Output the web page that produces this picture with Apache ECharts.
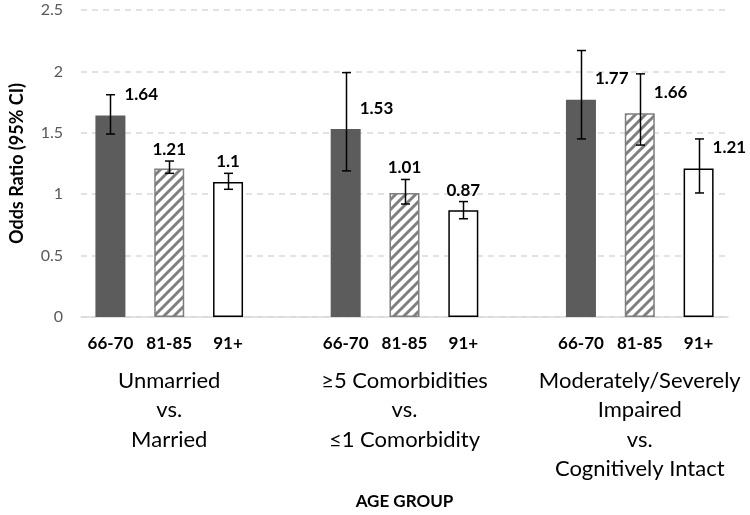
<!DOCTYPE html>
<html>
<head>
<meta charset="utf-8">
<script src="https://cdn.jsdelivr.net/npm/echarts@6/dist/echarts.min.js"></script>
<style>
  html, body { margin: 0; padding: 0; background: #fff; }
  #chart { width: 750px; height: 515px; }
</style>
</head>
<body>
<div id="chart"></div>
<script>
// age groups (bars inside each comparison)
const ageGroups = ['66-70', '81-85', '91+'];
// comparisons (group labels under the age groups)
const comparisons = [
  'Unmarried\nvs.\nMarried',
  '≥5 Comorbidities\nvs.\n≤1 Comorbidity',
  'Moderately/Severely\nImpaired\nvs.\nCognitively Intact'
];

// odds ratios, in age group order
const oddsUnmarried = [1.64, 1.21, 1.1];
const oddsComorbid = [1.53, 1.01, 0.87];
const oddsCognitive = [1.77, 1.66, 1.21];

// 95% CI bounds
const ciLowUnmarried = [1.49, 1.17, 1.04];
const ciHighUnmarried = [1.81, 1.27, 1.17];
const ciLowComorbid = [1.19, 0.92, 0.80];
const ciHighComorbid = [1.99, 1.12, 0.94];
const ciLowCognitive = [1.45, 1.40, 1.01];
const ciHighCognitive = [2.17, 1.98, 1.45];

// y axis ticks
const yMin = 0;
const yMax = 2.5;
const yStep = 0.5;

const FONT = 'Lato, "Open Sans", "DejaVu Sans", sans-serif';
const BAR_W = 30;

// diagonal hatch for the middle age group
function hatchPattern() {
  const c = document.createElement('canvas');
  c.width = 10;
  c.height = 10;
  const ctx = c.getContext('2d');
  ctx.fillStyle = '#fff';
  ctx.fillRect(0, 0, 10, 10);
  ctx.strokeStyle = '#7f7f7f';
  ctx.lineWidth = 3;
  ctx.beginPath();
  ctx.moveTo(-2, 12); ctx.lineTo(12, -2);
  ctx.moveTo(-7, 7); ctx.lineTo(7, -7);
  ctx.moveTo(3, 17); ctx.lineTo(17, 3);
  ctx.stroke();
  return { image: c, repeat: 'repeat' };
}

const barStyles = [
  { color: '#5c5c5c' },
  { color: hatchPattern(), borderColor: '#7f7f7f', borderWidth: 1.5 },
  { color: '#fff', borderColor: '#000', borderWidth: 1.5 }
];

const groups = [
  { odds: oddsUnmarried, low: ciLowUnmarried, high: ciHighUnmarried },
  { odds: oddsComorbid, low: ciLowComorbid, high: ciHighComorbid },
  { odds: oddsCognitive, low: ciLowCognitive, high: ciHighCognitive }
];

// lay the groups out on one category axis, with an empty slot between groups
let slots = [];
let groupLabels = [];
let barData = [];
let errData = [];
groups.forEach((g, gi) => {
  if (gi > 0) {
    slots.push('');
    groupLabels.push('');
    barData.push('-');
  }
  ageGroups.forEach((age, ai) => {
    const idx = slots.length;
    slots.push(age);
    groupLabels.push(ai === 1 ? comparisons[gi] : '');
    barData.push({ value: g.odds[ai], itemStyle: barStyles[ai] });
    errData.push([idx, g.odds[ai], g.low[ai], g.high[ai]]);
  });
});

// error bars + value labels
function renderErrorBar(params, api) {
  const x = api.value(0);
  const v = api.value(1);
  const lo = api.value(2);
  const hi = api.value(3);
  const pTop = api.coord([x, v]);
  const pLo = api.coord([x, lo]);
  const pHi = api.coord([x, hi]);
  const cx = Math.round(pTop[0]) + 0.5;
  const cap = 4.5;
  const style = { stroke: '#000', lineWidth: 1.5 };
  const wide = hi - v > 0.15;

  return {
    type: 'group',
    children: [
      { type: 'line', shape: { x1: cx, y1: pLo[1], x2: cx, y2: pHi[1] }, style: style },
      { type: 'line', shape: { x1: cx - cap, y1: pLo[1], x2: cx + cap, y2: pLo[1] }, style: style },
      { type: 'line', shape: { x1: cx - cap, y1: pHi[1], x2: cx + cap, y2: pHi[1] }, style: style },
      {
        type: 'text',
        style: {
          text: String(v),
          x: wide ? pTop[0] + BAR_W / 2 - 1 : pTop[0],
          y: wide ? pTop[1] - 21 : pHi[1] - 3,
          align: wide ? 'left' : 'center',
          verticalAlign: wide ? 'middle' : 'bottom',
          fontFamily: FONT,
          fontWeight: 'bold',
          fontSize: 17,
          fill: '#000'
        }
      }
    ]
  };
}

let chart = echarts.init(document.getElementById('chart'));

chart.setOption({
  animation: false,
  backgroundColor: '#fff',
  grid: { left: 73, right: 22, top: 10, bottom: 188, containLabel: false },
  xAxis: [
    {
      type: 'category',
      data: slots,
      position: 'bottom',
      axisLine: { lineStyle: { color: '#d9d9d9', width: 1.5 } },
      axisTick: { show: false },
      axisLabel: {
        interval: 0,
        margin: 18,
        fontFamily: FONT,
        fontWeight: 'bold',
        fontSize: 17,
        color: '#000'
      }
    },
    {
      type: 'category',
      data: groupLabels,
      position: 'bottom',
      axisLine: { show: false },
      axisTick: { show: false },
      axisLabel: {
        interval: 0,
        margin: 49,
        fontFamily: FONT,
        fontSize: 22,
        lineHeight: 29.5,
        color: '#000',
        align: 'center'
      },
      name: 'AGE GROUP',
      nameLocation: 'middle',
      nameGap: 176,
      nameTextStyle: {
        fontFamily: FONT,
        fontWeight: 'bold',
        fontSize: 17,
        color: '#000'
      }
    }
  ],
  yAxis: {
    type: 'value',
    min: yMin,
    max: yMax,
    interval: yStep,
    name: 'Odds Ratio (95% CI)',
    nameLocation: 'middle',
    nameGap: 55,
    nameTextStyle: {
      fontFamily: FONT,
      fontWeight: 'bold',
      fontSize: 18,
      color: '#000'
    },
    axisLine: { show: false },
    axisTick: { show: false },
    axisLabel: {
      margin: 18,
      fontFamily: FONT,
      fontSize: 16,
      color: '#595959'
    },
    splitLine: {
      lineStyle: { color: '#d9d9d9', type: [6, 5], width: 1.5 }
    }
  },
  series: [
    {
      type: 'bar',
      xAxisIndex: 0,
      barWidth: BAR_W,
      data: barData
    },
    {
      type: 'custom',
      xAxisIndex: 0,
      renderItem: renderErrorBar,
      data: errData,
      encode: { x: 0, y: 1 },
      z: 5,
      clip: false
    }
  ]
});
</script>
</body>
</html>
